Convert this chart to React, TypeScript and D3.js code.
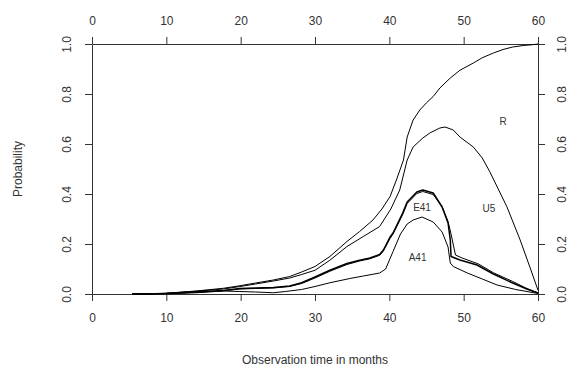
import React, { useRef, useEffect } from "react";
import * as d3 from "d3";

// time (months), probability pairs
const rCurve: [number, number][] = [
  [5.4, 0], [8, 0.001], [10, 0.003], [14, 0.012], [17.7, 0.023], [19.9, 0.033],
  [22, 0.044], [24.4, 0.056], [26.6, 0.07], [28.2, 0.088], [30, 0.11], [32, 0.15],
  [34.3, 0.21], [36, 0.25], [37.8, 0.296], [39, 0.34], [40.1, 0.39], [41, 0.46],
  [41.9, 0.536], [42.4, 0.628], [43.2, 0.696], [44.1, 0.736], [45, 0.765],
  [45.9, 0.79], [46.8, 0.824], [48.2, 0.864], [49.5, 0.895], [51.3, 0.924],
  [52.5, 0.945], [54, 0.964], [55.3, 0.978], [56.6, 0.988], [58, 0.994],
  [59.2, 0.997], [60, 1.0],
];

const u5Curve: [number, number][] = [
  [5.4, 0], [10, 0.003], [14, 0.011], [17.7, 0.02], [19.9, 0.03], [22, 0.04],
  [24.4, 0.052], [26.6, 0.064], [28.2, 0.078], [30, 0.095], [32, 0.135],
  [34.3, 0.19], [36.5, 0.23], [38.7, 0.27], [40.2, 0.34], [41.4, 0.416],
  [42.4, 0.536], [43.2, 0.588], [44.5, 0.624], [45.5, 0.645], [46.8, 0.664],
  [47.5, 0.668], [48.6, 0.656], [49.5, 0.628], [51.3, 0.588], [52.5, 0.544],
  [53.5, 0.49], [55.8, 0.35], [57.6, 0.216], [59, 0.1], [60, 0.015],
];

const e41Curve: [number, number][] = [
  [5.4, 0], [10, 0.002], [14, 0.008], [17.7, 0.014], [19.9, 0.022], [22, 0.024],
  [24.4, 0.026], [26.6, 0.032], [28.2, 0.045], [30, 0.068], [32, 0.095],
  [34.3, 0.122], [36, 0.135], [37.4, 0.144], [38.7, 0.158], [39.2, 0.176],
  [40.1, 0.228], [40.5, 0.244], [41.8, 0.324], [42.4, 0.368], [43.7, 0.408],
  [44.5, 0.416], [45.9, 0.404], [47.1, 0.348], [47.9, 0.284], [48.2, 0.216],
  [48.3, 0.15], [49.5, 0.136], [51.8, 0.116], [54, 0.08], [56.6, 0.044],
  [58.5, 0.02], [60, 0.004],
];

const e41bCurve: [number, number][] = [
  [5.4, 0], [10, 0.002], [14, 0.007], [17.7, 0.013], [19.9, 0.02], [22, 0.022],
  [24.4, 0.024], [26.6, 0.03], [28.2, 0.042], [30, 0.064], [32, 0.091],
  [34.3, 0.118], [36, 0.132], [37.4, 0.141], [38.7, 0.155], [39.2, 0.172],
  [40.1, 0.222], [40.5, 0.24], [41.8, 0.318], [42.4, 0.362], [43.7, 0.402],
  [44.5, 0.41], [45.9, 0.398], [47.1, 0.35], [47.9, 0.29], [48.3, 0.24],
  [48.9, 0.156], [49.8, 0.144], [52, 0.12], [54, 0.085], [56.6, 0.05],
  [58.5, 0.022], [60, 0.004],
];

const a41Curve: [number, number][] = [
  [5.4, 0], [10, 0.001], [14, 0.005], [17.7, 0.012], [19.9, 0.01], [22, 0.008],
  [24.4, 0.005], [26, 0.01], [28.2, 0.018], [30, 0.03], [32, 0.045],
  [34.7, 0.062], [36.5, 0.072], [38.7, 0.084], [39.5, 0.1], [40.5, 0.17],
  [41.5, 0.24], [42.4, 0.28], [43.2, 0.296], [44.4, 0.308], [45.9, 0.288],
  [47.1, 0.248], [47.9, 0.188], [48.2, 0.124], [48.6, 0.11], [50.5, 0.084],
  [52.5, 0.06], [54.5, 0.036], [57, 0.018], [60, 0.002],
];

const curveLabels = [
  { text: "R", t: 55.3, p: 0.69 },
  { text: "U5", t: 53.4, p: 0.344 },
  { text: "E41", t: 44.4, p: 0.346 },
  { text: "A41", t: 43.8, p: 0.146 },
];

const xTicks = [0, 10, 20, 30, 40, 50, 60];
const yTicks = [0, 0.2, 0.4, 0.6, 0.8, 1.0];

export default function App() {
  const ref = useRef<SVGSVGElement>(null);

  useEffect(() => {
    const svg = d3.select(ref.current);
    svg.selectAll("*").remove();

    const width = 569;
    const height = 369;
    const font = "Liberation Sans, Arial, sans-serif";
    const ink = "#333";

    const x = d3.scaleLinear().domain([0, 60]).range([92, 538]);
    const y = d3.scaleLinear().domain([0, 1]).range([294, 44]);

    svg.append("rect").attr("width", width).attr("height", height).attr("fill", "#fff");

    const styleAxis = (g: any) => {
      g.selectAll("path").attr("stroke", ink);
      g.selectAll("line").attr("stroke", ink);
      g.selectAll("text")
        .attr("fill", ink)
        .style("font-family", font)
        .style("font-size", "12px");
      g.attr("font-family", null).attr("font-size", null);
    };

    // bottom and top axes
    svg
      .append("g")
      .attr("transform", `translate(0,${y(0)})`)
      .call(d3.axisBottom(x).tickValues(xTicks).tickSize(7).tickSizeOuter(0).tickPadding(12).tickFormat(d3.format("d")))
      .call(styleAxis);

    svg
      .append("g")
      .attr("transform", `translate(0,${y(1)})`)
      .call(d3.axisTop(x).tickValues(xTicks).tickSize(7).tickSizeOuter(0).tickPadding(12).tickFormat(d3.format("d")))
      .call(styleAxis);

    // left and right axes, labels rotated like base R
    const left = svg
      .append("g")
      .attr("transform", `translate(${x(0)},0)`)
      .call(d3.axisLeft(y).tickValues(yTicks).tickSize(7).tickSizeOuter(0).tickFormat(d3.format(".1f")))
      .call(styleAxis);
    left
      .selectAll(".tick text")
      .attr("x", null)
      .attr("dy", null)
      .attr("text-anchor", "middle")
      .attr("dominant-baseline", "central")
      .attr("transform", "translate(-25,0) rotate(-90)");

    const right = svg
      .append("g")
      .attr("transform", `translate(${x(60)},0)`)
      .call(d3.axisRight(y).tickValues(yTicks).tickSize(7).tickSizeOuter(0).tickFormat(d3.format(".1f")))
      .call(styleAxis);
    right
      .selectAll(".tick text")
      .attr("x", null)
      .attr("dy", null)
      .attr("text-anchor", "middle")
      .attr("dominant-baseline", "central")
      .attr("transform", "translate(24,0) rotate(-90)");

    // curves
    const line = d3
      .line<[number, number]>()
      .x((d) => x(d[0]))
      .y((d) => y(d[1]));

    const series = [
      { data: rCurve, w: 1 },
      { data: u5Curve, w: 1 },
      { data: e41Curve, w: 1.5 },
      { data: e41bCurve, w: 1 },
      { data: a41Curve, w: 1 },
    ];

    svg
      .append("g")
      .selectAll("path")
      .data(series)
      .join("path")
      .attr("d", (d) => line(d.data))
      .attr("fill", "none")
      .attr("stroke", "#000")
      .attr("stroke-width", (d) => d.w)
      .attr("stroke-linejoin", "round");

    // curve labels
    svg
      .append("g")
      .selectAll("text")
      .data(curveLabels)
      .join("text")
      .attr("x", (d) => x(d.t))
      .attr("y", (d) => y(d.p))
      .attr("text-anchor", "middle")
      .attr("dominant-baseline", "central")
      .attr("fill", ink)
      .style("font-family", font)
      .style("font-size", "10px")
      .text((d) => d.text);

    // axis titles
    svg
      .append("text")
      .attr("x", (x(0) + x(60)) / 2)
      .attr("y", 360)
      .attr("text-anchor", "middle")
      .attr("dominant-baseline", "central")
      .attr("fill", ink)
      .style("font-family", font)
      .style("font-size", "12px")
      .text("Observation time in months");

    svg
      .append("text")
      .attr("text-anchor", "middle")
      .attr("dominant-baseline", "central")
      .attr("transform", `translate(18,${(y(0) + y(1)) / 2}) rotate(-90)`)
      .attr("fill", ink)
      .style("font-family", font)
      .style("font-size", "12px")
      .text("Probability");
  }, []);

  return (
    <svg
      ref={ref}
      width={569}
      height={369}
      style={{ position: "absolute", left: 0, top: 0 }}
    ></svg>
  );
}
